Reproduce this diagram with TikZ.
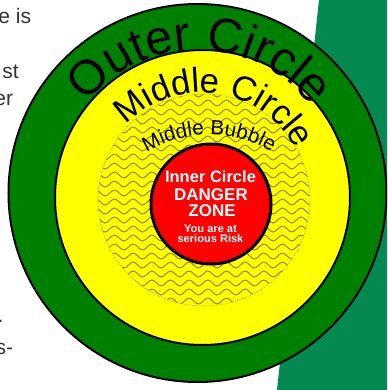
\documentclass[tikz,border=0pt]{standalone}
\usepackage{fontspec}
\setmainfont{Liberation Sans}
\usetikzlibrary{decorations.text,decorations.pathmorphing}

\tikzset{every picture/.style={line width=0.75pt}}
\tikzset{
  ringline/.style={draw=black, line width=1.5},
  wavyline/.style={color={rgb, 255:red, 150; green, 140; blue, 10}, line width=0.8,
    decorate, decoration={snake, segment length=14, amplitude=2.2}},
  slidetext/.style={inner sep=0pt, anchor=base west, color={rgb, 255:red, 51; green, 51; blue, 51},
    font=\fontsize{15.75}{18}\selectfont},
  zonetext/.style={inner sep=0pt, anchor=base, text=white, font=\bfseries\fontsize{#1}{#1}\selectfont},
  ringtext/.style 2 args={decorate, decoration={text along path, text align=center,
    text={|\fontsize{#1}{#1}\selectfont|#2}}}
}

\begin{document}
\begin{tikzpicture}[x=0.75pt,y=0.75pt,yscale=-1,xscale=1]
\useasboundingbox (0,0) rectangle (387,390);
\clip (0,0) rectangle (387,390);

%Shape: Polygon [id:slide band]
\fill [color={rgb, 255:red, 4; green, 137; blue, 80}] (319,0) -- (387,0) -- (387,390) -- (277,390) -- cycle ;

%Text fragments cut at the slide edge
\node [slidetext] (frag1) at (-2,23) {e is};
\node [slidetext] (frag2) at (2,78) {st};
\node [slidetext] (frag3) at (-6,105) {er};
\node [slidetext] (frag4) at (-3,322) {.};
\node [slidetext] (frag5) at (-5,354) {s-};

%Shape: Circle [id:outer]
\draw [ringline, fill={rgb, 255:red, 0; green, 128; blue, 0}] (197.5,193) circle (189) ;
%Shape: Circle [id:middle]
\draw [ringline, fill={rgb, 255:red, 255; green, 255; blue, 0}] (202.5,197.5) circle (147.5) ;

%Shape: Circle [id:bubble]
\begin{scope}
\clip (204,200) circle (106) ;
\foreach \y in {94,103,...,310}
  \draw [wavyline] (90,\y) -- (320,\y) ;
\end{scope}
\draw [densely dotted, color={rgb, 255:red, 140; green, 140; blue, 60}, line width=0.5] (204,200) circle (106) ;

%Shape: Circle [id:inner]
\draw [ringline, line width=2.25, fill={rgb, 255:red, 255; green, 0; blue, 0}] (211,204) circle (60) ;

%Curved labels
\path [ringtext={36.5}{Outer Circle}] ([shift={(197.5,193)}]181:143) arc [start angle=181, end angle=361, radius=143] ;
\path [ringtext={26}{Middle Circle}] ([shift={(202.5,197.5)}]188:105) arc [start angle=188, end angle=368, radius=105] ;
\path [ringtext={15.5}{Middle Bubble}] ([shift={(209,255)}]180:120) arc [start angle=180, end angle=360, radius=120] ;

%Inner text
\node [zonetext=12.4] (inner) at (210.5,182) {Inner Circle};
\node [zonetext=12.75] (danger) at (211,200) {DANGER};
\node [zonetext=12.75] (zone) at (212,216) {ZONE};
\node [zonetext=8.3] (atrisk) at (210.5,232) {You are at};
\node [zonetext=8.3] (serious) at (210.5,242) {serious Risk};

\end{tikzpicture}
\end{document}
